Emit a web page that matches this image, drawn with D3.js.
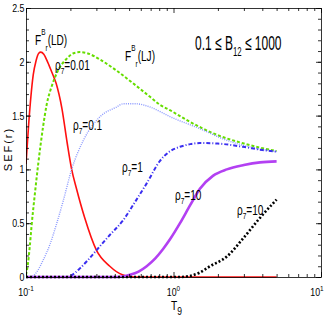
<!DOCTYPE html>
<html>
<head>
<meta charset="utf-8">
<script src="https://cdn.jsdelivr.net/npm/d3@7"></script>
<style>
  body { margin: 0; background: #fff; }
  svg { display: block; }
  text { font-family: "Liberation Sans", Arial, sans-serif; fill: #000; }
  .axis path, .axis line { stroke: #000; stroke-width: 0.8; }
</style>
</head>
<body>
<div id="chart"></div>
<script>
// F_r^B (LD)
const ldT = [0.1, 0.104, 0.108, 0.112, 0.117, 0.122, 0.126, 0.132, 0.14, 0.15, 0.16, 0.175, 0.19, 0.204, 0.22, 0.25, 0.3, 0.37, 0.45, 0.5, 0.6, 1, 2, 5];
const ldV = [1.05, 1.4, 1.68, 1.88, 2.01, 2.08, 2.09, 2.07, 2.0, 1.9, 1.8, 1.57, 1.25, 1.0, 0.82, 0.55, 0.25, 0.1, 0.02, 0.005, 0, 0, 0, 0];
// rho7 = 0.01
const r001T = [0.1, 0.103, 0.106, 0.109, 0.115, 0.121, 0.13, 0.138, 0.15, 0.165, 0.189, 0.21, 0.232, 0.26, 0.318, 0.4, 0.532, 0.7, 0.81, 0.947, 1.3, 1.86, 3, 5];
const r001V = [0.02, 0.12, 0.28, 0.47, 0.78, 1.05, 1.38, 1.6, 1.78, 1.92, 2.03, 2.08, 2.09, 2.08, 2.02, 1.93, 1.8, 1.67, 1.6, 1.55, 1.44, 1.335, 1.24, 1.17];
// rho7 = 0.1
const r01T = [0.1, 0.108, 0.112, 0.12, 0.13, 0.146, 0.16, 0.179, 0.204, 0.245, 0.318, 0.412, 0.457, 0.55, 0.693, 0.947, 1.5, 2.3, 3.5, 5];
const r01V = [0, 0, 0.01, 0.06, 0.15, 0.31, 0.48, 0.71, 1.0, 1.27, 1.49, 1.58, 1.61, 1.61, 1.58, 1.49, 1.38, 1.27, 1.2, 1.165];
// rho7 = 1
const r1T = [0.1, 0.19, 0.2, 0.232, 0.26, 0.301, 0.37, 0.457, 0.55, 0.658, 0.81, 0.95, 1.107, 1.3, 1.51, 2, 2.96, 4, 5];
const r1V = [0, 0, 0.01, 0.08, 0.15, 0.25, 0.39, 0.53, 0.7, 0.87, 1.08, 1.17, 1.21, 1.235, 1.245, 1.24, 1.21, 1.18, 1.165];
// rho7 = 10 (solid)
const r10T = [0.1, 0.4, 0.45, 0.507, 0.58, 0.658, 0.75, 0.85, 0.947, 1.107, 1.3, 1.51, 1.85, 2.3, 3, 3.86, 5];
const r10V = [0, 0, 0.005, 0.02, 0.05, 0.1, 0.17, 0.26, 0.35, 0.5, 0.67, 0.82, 0.94, 1.0, 1.04, 1.065, 1.075];
// rho7 = 10 (dotted)
const r10bT = [0.1, 1.1, 1.29, 1.5, 1.77, 2.3, 2.97, 3.86, 5];
const r10bV = [0, 0, 0.01, 0.04, 0.1, 0.19, 0.36, 0.55, 0.72];

const yTicks = [0, 0.5, 1, 1.5, 2, 2.5];
const xTicks = [0.1, 1, 10];
const xTickExp = ["-1", "0", "1"];

const width = 327, height = 327;
const margin = { top: 8, right: 6, bottom: 50, left: 26 };

const svg = d3.select("#chart").append("svg")
  .attr("width", width)
  .attr("height", height);

const x = d3.scaleLog().domain([0.1, 10]).range([margin.left, width - margin.right]);
const y = d3.scaleLinear().domain([0, 2.5]).range([height - margin.bottom, margin.top]);

svg.append("defs").append("clipPath").attr("id", "plot")
  .append("rect")
  .attr("x", margin.left).attr("y", margin.top - 2)
  .attr("width", x(10) - x(0.1)).attr("height", y(0) - y(2.5) + 4);

// curves
const series = [
  { t: ldT, v: ldV, color: "#ff1010", w: 1.6, dash: null },
  { t: r001T, v: r001V, color: "#66dd00", w: 2, dash: "3,2" },
  { t: r01T, v: r01V, color: "#8a98ff", w: 1.4, dash: "1,1.2" },
  { t: r1T, v: r1V, color: "#3a2ef0", w: 2, dash: "4,2,1,2" },
  { t: r10T, v: r10V, color: "#b340f2", w: 2.6, dash: null },
  { t: r10bT, v: r10bV, color: "#000", w: 2.6, dash: "2,2" }
];

const line = d3.line()
  .x(d => x(d[0]))
  .y(d => y(d[1]))
  .curve(d3.curveMonotoneX);

svg.append("g").attr("clip-path", "url(#plot)")
  .selectAll("path")
  .data(series)
  .join("path")
  .attr("fill", "none")
  .attr("stroke", d => d.color)
  .attr("stroke-width", d => d.w)
  .attr("stroke-dasharray", d => d.dash)
  .attr("d", d => line(d.t.map((t, i) => [t, d.v[i]])));

// axes
const minorX = [];
[0.1, 1].forEach(b => { for (let k = 2; k <= 9; k++) minorX.push(b * k); });
const minorY = d3.range(0, 26).map(i => i / 10);

const axB = svg.append("g").attr("class", "axis")
  .attr("transform", `translate(0,${y(0)})`);
axB.call(d3.axisBottom(x).tickValues(xTicks).tickSizeInner(-5).tickSizeOuter(0).tickFormat(""));
axB.append("g").call(d3.axisBottom(x).tickValues(minorX).tickSizeInner(-3).tickSizeOuter(0).tickFormat(""))
  .select(".domain").remove();

const axT = svg.append("g").attr("class", "axis")
  .attr("transform", `translate(0,${y(2.5)})`);
axT.call(d3.axisTop(x).tickValues(xTicks).tickSizeInner(-5).tickSizeOuter(0).tickFormat(""));
axT.append("g").call(d3.axisTop(x).tickValues(minorX).tickSizeInner(-3).tickSizeOuter(0).tickFormat(""))
  .select(".domain").remove();

const axL = svg.append("g").attr("class", "axis")
  .attr("transform", `translate(${x(0.1)},0)`);
axL.call(d3.axisLeft(y).tickValues(yTicks).tickSizeInner(-5).tickSizeOuter(0).tickPadding(2)
  .tickFormat(d3.format("~g")));
axL.append("g").call(d3.axisLeft(y).tickValues(minorY).tickSizeInner(-3).tickSizeOuter(0).tickFormat(""))
  .select(".domain").remove();
axL.select(".domain").attr("stroke", "#666").attr("stroke-width", 1.4);
axL.selectAll(".tick text")
  .attr("font-size", 11)
  .attr("fill", "#333")
  .attr("transform", "scale(0.8,1)");

const axR = svg.append("g").attr("class", "axis")
  .attr("transform", `translate(${x(10)},0)`);
axR.call(d3.axisRight(y).tickValues(yTicks).tickSizeInner(-5).tickSizeOuter(0).tickFormat(""));
axR.append("g").call(d3.axisRight(y).tickValues(minorY).tickSizeInner(-3).tickSizeOuter(0).tickFormat(""))
  .select(".domain").remove();

// rich text helper: parts = [text, dy, size]
function rich(px, py, parts, sx, anchor) {
  const t = svg.append("text")
    .attr("transform", `translate(${px},${py}) scale(${sx},1)`)
    .attr("text-anchor", anchor || "start");
  parts.forEach(p => {
    t.append("tspan").attr("dy", p[1]).attr("font-size", p[2]).text(p[0]);
  });
  return t;
}

// x tick labels
xTicks.forEach((v, i) => {
  const xp = x(v) + (i === 2 ? -4 : 0);
  rich(xp, 296, [["10", 0, 11], [xTickExp[i], -5, 8]], 0.8, "middle").attr("fill", "#333");
});

// axis titles
rich(171, 310, [["T", 0, 12], ["9", 5, 10]], 0.85, "start").attr("fill", "#333");
svg.append("text")
  .attr("transform", `translate(12,149) rotate(-90)`)
  .attr("text-anchor", "middle")
  .attr("font-size", 11)
  .attr("letter-spacing", 2)
  .attr("fill", "#333")
  .text("SEF(r)");

// annotations
rich(35, 45, [["F", 0, 14], ["B", -10, 9], ["r", 16, 9], ["(LD)", -6, 14]], 0.72);
rich(125, 61, [["F", 0, 14], ["B", -10, 9], ["r", 16, 9], ["(LJ)", -6, 14]], 0.72);
rich(55, 70, [["\u03c1", 0, 14], ["7", 4, 9], ["=0.01", -4, 14]], 0.72);
rich(73, 130, [["\u03c1", 0, 14], ["7", 4, 9], ["=0.1", -4, 14]], 0.72);
rich(122, 172, [["\u03c1", 0, 14], ["7", 4, 9], ["=1", -4, 14]], 0.72);
rich(175, 200, [["\u03c1", 0, 14], ["7", 4, 9], ["=10", -4, 14]], 0.72);
rich(237, 215, [["\u03c1", 0, 14], ["7", 4, 9], ["=10", -4, 14]], 0.72);
rich(195, 50, [["0.1 \u2264 B", 0, 20], ["12", 6, 13], [" \u2264 1000", -6, 20]], 0.6);
</script>
</body>
</html>
